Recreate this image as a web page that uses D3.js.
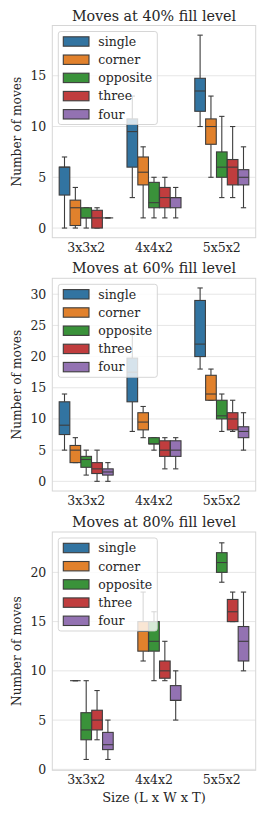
<!DOCTYPE html>
<html><head><meta charset="utf-8">
<script src="https://cdn.jsdelivr.net/npm/d3@7"></script>
<style>body{margin:0;background:#fff}svg{display:block}</style>
</head><body><svg id="c" width="272" height="822"></svg>
<script>
// ---- data ----
const sizes = ["3x3x2", "4x4x2", "5x5x2"];
const strategies = ["single", "corner", "opposite", "three", "four"];
const palette = ["#3274a1", "#e1812c", "#3a923a", "#c03d3e", "#9372b2"];
const titles = ["Moves at 40% fill level", "Moves at 60% fill level", "Moves at 80% fill level"];
// box stats per strategy per size: [whiskerLow, q1, median, q3, whiskerHigh]; null = no data
const fill40 = [
  [[0, 3.25, 6, 6, 7], [3, 6, 9.5, 10.75, 13], [10, 11.5, 13.5, 14.75, 19]],
  [[0, 0.25, 2, 2.75, 4], [1, 4.25, 5.5, 7, 8], [5, 8.25, 10, 10.75, 13]],
  [[0, 1, 1, 2, 2], [1, 2, 2.5, 4.5, 5], [3, 5, 6, 7.5, 11]],
  [[0, 0, 1, 1.75, 2], [1, 2, 3, 4, 5], [3, 4.25, 6, 6.75, 10]],
  [[1, 1, 1, 1, 1], [1, 2, 3, 3, 4], [2, 4.25, 5, 5.75, 8]]
];
const fill60 = [
  [[5, 7.5, 9, 12.75, 14], [8, 12.75, 17.5, 19.75, 24], [18, 20, 22, 29, 31]],
  [[3, 3, 5, 5.75, 7], [7, 8.25, 9.5, 11, 12], [13, 13, 14, 17, 18]],
  [[1, 2.25, 3.5, 4, 5], [5, 6, 6, 7, 7], [8, 10, 10.5, 13, 14]],
  [[0, 1.25, 2, 3, 5], [2, 4, 5, 6.5, 7], [8, 8.25, 10, 11, 13]],
  [[0, 1, 1.5, 2, 3], [2, 4, 5, 6.5, 7], [5, 7, 8, 8.75, 11]]
];
const fill80 = [
  [null, null, null],
  [[9, 9, 9, 9, 9], [11, 12, 14, 15, 18], null],
  [[1, 3, 4, 5.75, 9], [9, 12, 13, 15, 16], [19, 20, 21, 22, 23]],
  [[3, 4, 5, 6, 8], [9, 9.25, 10, 11, 13], [15, 15, 16, 17.25, 18]],
  [[1, 2, 2.5, 3.75, 5], [5, 7, 7, 8.5, 10], [10, 11, 13, 14.5, 18]]
];
const ticks40 = [0, 5, 10, 15];
const ticks60 = [0, 5, 10, 15, 20, 25, 30];
const ticks80 = [0, 5, 10, 15, 20];
const yLabel = "Number of moves";
const xLabel = "Size (L x W x T)";

// ---- layout ----
const panels = [
  {data: fill40, ticks: ticks40, title: titles[0], top: 25.5, bottom: 237.7},
  {data: fill60, ticks: ticks60, title: titles[1], top: 278.3, bottom: 491},
  {data: fill80, ticks: ticks80, title: titles[2], top: 532, bottom: 770.3}
];
const left = 52.3, right = 255.7;
const FONT = "'DejaVu Serif', serif";
const gray = "#3d3d3d";
const svg = d3.select("#c");

const x = d3.scaleBand().domain(sizes).range([left, right]).padding(0);
const hue = d3.scaleBand().domain(strategies).range([0, x.bandwidth() * 0.8]).padding(0);
const boxW = hue.bandwidth() * 0.98;

panels.forEach((p, pi) => {
  const vals = [];
  p.data.forEach(s => s.forEach(b => { if (b) vals.push(b[0], b[4]); }));
  const lo = d3.min(vals), hi = d3.max(vals), pad = (hi - lo) * 0.05;
  const y = d3.scaleLinear().domain([lo - pad, hi + pad]).range([p.bottom, p.top]);
  const g = svg.append("g");

  // grid
  g.selectAll(".grid").data(p.ticks).enter().append("line")
    .attr("x1", left).attr("x2", right)
    .attr("y1", d => y(d)).attr("y2", d => y(d))
    .attr("stroke", "#e6e6e6").attr("stroke-width", 1);
  // frame
  g.append("rect").attr("x", left).attr("y", p.top)
    .attr("width", right - left).attr("height", p.bottom - p.top)
    .attr("fill", "none").attr("stroke", "#d6d6d6").attr("stroke-width", 1);

  // y axis
  const ya = d3.axisLeft(y).tickValues(p.ticks).tickSize(0).tickPadding(6);
  const yg = g.append("g").attr("transform", `translate(${left},0)`).call(ya);
  yg.select(".domain").remove();
  yg.selectAll("text").attr("font-family", FONT).attr("font-size", 12.5).attr("fill", "#262626");

  // x axis
  const xa = d3.axisBottom(x).tickSize(0).tickPadding(5);
  const xg = g.append("g").attr("transform", `translate(0,${p.bottom})`).call(xa);
  xg.select(".domain").remove();
  xg.selectAll("text").attr("font-family", FONT).attr("font-size", 12.5).attr("fill", "#262626");

  // title
  g.append("text").attr("x", (left + right) / 2).attr("y", p.top - 5)
    .attr("text-anchor", "middle").attr("font-family", FONT).attr("font-size", 14.3)
    .attr("fill", "#262626").text(p.title);
  // y label
  g.append("text").attr("transform", `translate(21,${(p.top + p.bottom) / 2}) rotate(-90)`)
    .attr("text-anchor", "middle").attr("font-family", FONT).attr("font-size", 12.2)
    .attr("fill", "#262626").text(yLabel);

  // boxes
  strategies.forEach((s, si) => {
    p.data[si].forEach((b, ci) => {
      if (!b) return;
      const cx = x(sizes[ci]) + x.bandwidth() * 0.1 + hue(s) + hue.bandwidth() / 2;
      const bg = g.append("g");
      const capW = boxW * 0.5;
      // whiskers
      bg.append("line").attr("x1", cx).attr("x2", cx).attr("y1", y(b[0])).attr("y2", y(b[1]))
        .attr("stroke", gray).attr("stroke-width", 1.1);
      bg.append("line").attr("x1", cx).attr("x2", cx).attr("y1", y(b[3])).attr("y2", y(b[4]))
        .attr("stroke", gray).attr("stroke-width", 1.1);
      [b[0], b[4]].forEach(v => bg.append("line")
        .attr("x1", cx - capW / 2).attr("x2", cx + capW / 2).attr("y1", y(v)).attr("y2", y(v))
        .attr("stroke", gray).attr("stroke-width", 1.1));
      // box
      bg.append("rect").attr("x", cx - boxW / 2).attr("y", y(b[3]))
        .attr("width", boxW).attr("height", Math.max(0, y(b[1]) - y(b[3])))
        .attr("fill", palette[si]).attr("stroke", gray).attr("stroke-width", 1.1);
      // median
      bg.append("line").attr("x1", cx - boxW / 2).attr("x2", cx + boxW / 2)
        .attr("y1", y(b[2])).attr("y2", y(b[2]))
        .attr("stroke", gray).attr("stroke-width", 1.1);
    });
  });

  // legend
  const lx = left + 6, ly = p.top + 6, lw = 99, lh = 93;
  const lg = g.append("g");
  lg.append("rect").attr("x", lx).attr("y", ly).attr("width", lw).attr("height", lh)
    .attr("rx", 2.5).attr("fill", "rgba(255,255,255,0.8)").attr("stroke", "rgba(204,204,204,0.8)")
    .attr("stroke-width", 1);
  strategies.forEach((s, si) => {
    const ry = ly + 10 + si * 18.2;
    lg.append("rect").attr("x", lx + 5).attr("y", ry - 4.7).attr("width", 25.7).attr("height", 9.4)
      .attr("fill", palette[si]).attr("stroke", gray).attr("stroke-width", 1.1);
    lg.append("text").attr("x", lx + 40).attr("y", ry).attr("dy", "0.35em")
      .attr("font-family", FONT).attr("font-size", 12.5).attr("fill", "#262626").text(s);
  });
});

// x label
svg.append("text").attr("x", (left + right) / 2).attr("y", 802)
  .attr("text-anchor", "middle").attr("font-family", FONT).attr("font-size", 13)
  .attr("fill", "#262626").text(xLabel);
</script>
</body></html>
